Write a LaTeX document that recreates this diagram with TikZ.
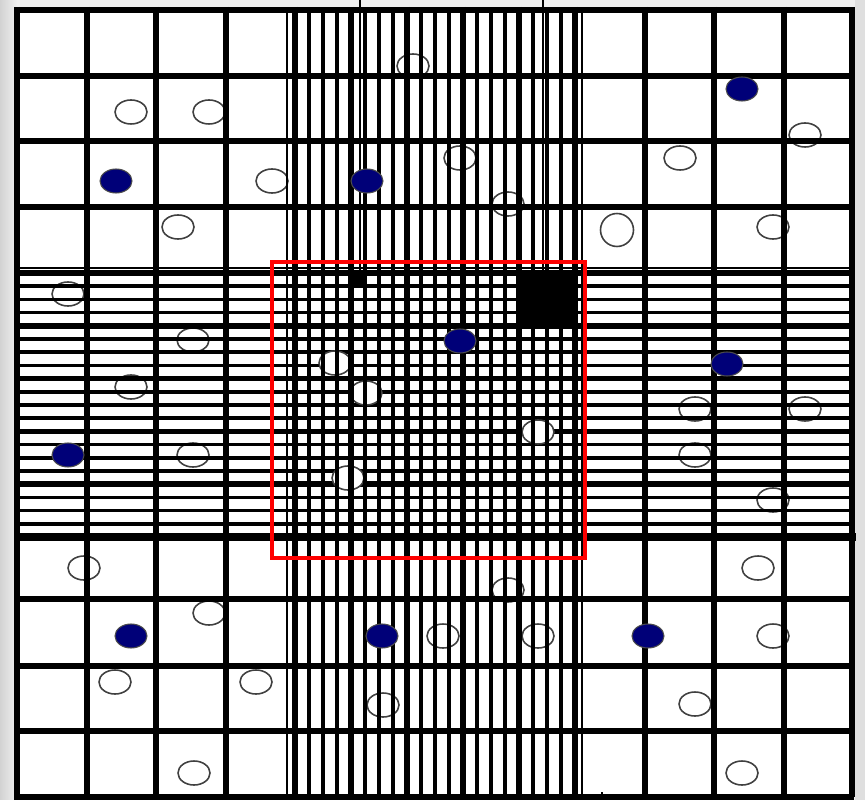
\documentclass[tikz,border=0pt]{standalone}
\usepackage{tikz}
\definecolor{dotblue}{RGB}{0,0,120}

\begin{document}
\begin{tikzpicture}[x=0.02cm, y=-0.02cm,
    coarse/.style={line width=3.1pt},
    fine/.style={line width=2.1pt},
    bold/.style={line width=3.1pt},
    edgeline/.style={line width=1.3pt},
    hole/.style={draw=black!75, line width=0.9pt},
    dot/.style={fill=dotblue, draw=black!70, line width=0.6pt}]
    \useasboundingbox (0,0) rectangle (865,800);

    % ==========================================
    % BACKGROUND
    % ==========================================
    \fill[gray!12] (0,0) rectangle (865,800);
    \shade[left color=gray!35, right color=gray!12] (0,0) rectangle (17,800);
    \fill[gray!25] (855,0) rectangle (865,800);
    \fill[white] (17,10) rectangle (852,797);

    % ==========================================
    % OPEN PARTICLES (below the grid)
    % ==========================================
    \foreach \px/\py in {413/66, 131/112, 209/112, 272/181, 178/227,
                         460/158, 508/204, 680/158, 805/135, 773/227,
                         68/294, 193/340, 131/387, 193/455,
                         695/409, 805/409, 695/455, 773/500,
                         84/568, 209/613, 115/682, 256/682, 194/773,
                         508/590, 443/636, 538/636, 383/705,
                         758/568, 773/636, 695/704, 742/773}
        \draw[hole] (\px,\py) ellipse (0.32cm and 0.24cm);
    % the round one
    \draw[hole] (617,230) circle (0.33cm);

    % ==========================================
    % COARSE GRID
    % ==========================================
    % Vertical lines, left and right blocks
    \foreach \gx in {17, 87, 156, 226, 645, 714, 784, 852}
        \draw[coarse] (\gx,7) -- (\gx,797);
    % Horizontal lines, top and bottom blocks
    \foreach \gy in {10, 76, 141, 207, 599, 666, 731, 797}
        \draw[coarse] (14,\gy) -- (854,\gy);

    % ==========================================
    % REFINED BANDS
    % ==========================================
    % Horizontal band
    \draw[edgeline] (14,268) -- (854,268);
    \foreach \k in {0,...,20}
        \draw[fine] (17,{273+13.2*\k}) -- ++(835,0);
    \foreach \k in {0,...,4}
        \draw[bold] (14,{273+52.8*\k}) -- ++(840,0);
    \draw[line width=4.6pt] (14,537) -- (856,537);

    % Open particles inside the box
    \foreach \px/\py in {335/363, 366/393, 538/432, 348/478}
        \draw[hole, fill=white] (\px,\py) ellipse (0.32cm and 0.24cm);

    % Vertical band
    \draw[edgeline] (287,10) -- (287,797);
    \draw[edgeline] (582,10) -- (582,797);
    \foreach \k in {0,...,20}
        \draw[fine] ({295+14*\k},10) -- ++(0,787);
    \foreach \k in {0,...,5}
        \draw[bold] ({295+56*\k},7) -- ++(0,790);

    % Pointer lines from the top edge
    \draw[edgeline] (360,0) -- (360,280);
    \draw[edgeline] (543,0) -- (543,273);
    \draw[line width=1pt] (602,792) -- (602,800);

    % ==========================================
    % OVERLAP REGION
    % ==========================================
    % Marked cells
    \fill[black] (519,273) rectangle (575,326);
    \fill[black] (351,273) rectangle (365,286);

    % Red frame
    \draw[red, line width=1.8pt] (272,262) rectangle (585,558);

    % ==========================================
    % FILLED PARTICLES
    % ==========================================
    \foreach \px/\py in {116/181, 367/181, 742/89, 68/455, 460/341,
                         727/364, 131/636, 382/636, 648/636}
        \filldraw[dot] (\px,\py) ellipse (0.32cm and 0.24cm);
\end{tikzpicture}
\end{document}
